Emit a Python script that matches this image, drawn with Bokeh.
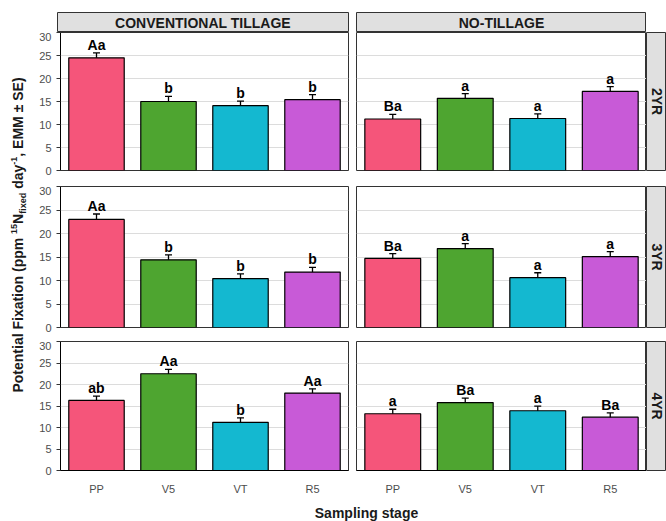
import math
from bokeh.plotting import figure
from bokeh.models import ColumnDataSource, Whisker, TeeHead, Range1d, FixedTicker, Div, Spacer
from bokeh.layouts import row, column
from bokeh.core.properties import value
from bokeh.embed import file_html
from bokeh.resources import INLINE

# ---------------- data ----------------
stages = ["PP", "V5", "VT", "R5"]
stage_colors = ["#F5557A", "#4EA530", "#14B8D0", "#C85AD7"]
tillages = ["CONVENTIONAL TILLAGE", "NO-TILLAGE"]
years = ["2YR", "3YR", "4YR"]
y_ticks = [0, 5, 10, 15, 20, 25, 30]

ct_2yr_mean = [24.5, 15.0, 14.1, 15.4]
ct_2yr_se = [1.05, 1.1, 1.0, 1.1]
ct_2yr_lab = ["Aa", "b", "b", "b"]
nt_2yr_mean = [11.2, 15.7, 11.3, 17.2]
nt_2yr_se = [1.0, 1.0, 1.0, 1.05]
nt_2yr_lab = ["Ba", "a", "a", "a"]

ct_3yr_mean = [23.0, 14.4, 10.4, 11.8]
ct_3yr_se = [1.15, 1.05, 1.0, 1.0]
ct_3yr_lab = ["Aa", "b", "b", "b"]
nt_3yr_mean = [14.7, 16.8, 10.6, 15.1]
nt_3yr_se = [1.0, 1.05, 1.05, 1.05]
nt_3yr_lab = ["Ba", "a", "a", "a"]

ct_4yr_mean = [16.3, 22.5, 11.2, 18.0]
ct_4yr_se = [1.0, 1.0, 1.05, 1.0]
ct_4yr_lab = ["ab", "Aa", "b", "Aa"]
nt_4yr_mean = [13.2, 15.8, 13.9, 12.4]
nt_4yr_se = [1.05, 1.05, 1.05, 1.0]
nt_4yr_lab = ["a", "Ba", "a", "Ba"]

panels = {
    ("2YR", 0): (ct_2yr_mean, ct_2yr_se, ct_2yr_lab),
    ("2YR", 1): (nt_2yr_mean, nt_2yr_se, nt_2yr_lab),
    ("3YR", 0): (ct_3yr_mean, ct_3yr_se, ct_3yr_lab),
    ("3YR", 1): (nt_3yr_mean, nt_3yr_se, nt_3yr_lab),
    ("4YR", 0): (ct_4yr_mean, ct_4yr_se, ct_4yr_lab),
    ("4YR", 1): (nt_4yr_mean, nt_4yr_se, nt_4yr_lab),
}

FONT = "Liberation Sans"
STRIP_FILL = "#e0e0e0"
EDGE = "#333333"
TICK_TXT = "#4d4d4d"

YLAB_W = 36
LEFT_AXIS = 21
GAP = 8
FRAME_W_L = 291
FRAME_W_R = 290
STRIP_W = 20
TOP_H = 32
TOP_PAD = 12
row_frames = [138, 141, 138]
row_bottoms = [16, 14, 18]
TOTAL_H = 521


def panel(mean, se, labels, left, frame_h, border_b, show_x):
    w = (LEFT_AXIS + FRAME_W_L + GAP) if left else FRAME_W_R
    p = figure(x_range=stages, y_range=Range1d(0, 30), width=w, height=frame_h + border_b,
               output_backend="svg", toolbar_location=None,
               min_border_left=LEFT_AXIS if left else 0, min_border_right=GAP if left else 0,
               min_border_top=0, min_border_bottom=border_b,
               outline_line_color=EDGE, background_fill_color="white")
    src = ColumnDataSource(dict(
        stage=stages, mean=mean,
        upper=[m + s for m, s in zip(mean, se)],
        lower=[m - s for m, s in zip(mean, se)],
        color=stage_colors, label=labels))
    p.vbar(x="stage", top="mean", width=0.77, fill_color="color", line_color="black",
           line_width=1.2, source=src)
    p.add_layout(Whisker(base="stage", upper="upper", lower="lower", source=src,
                         line_color="black", line_width=1.3,
                         upper_head=TeeHead(size=7, line_color="black", line_width=1.3),
                         lower_head=TeeHead(size=7, line_color="black", line_width=1.3)))
    p.text(x="stage", y="upper", text="label", source=src, text_align="center",
           text_baseline="bottom", y_offset=0, text_font=value(FONT),
           text_font_style="bold", text_font_size="14px", text_color="black")
    p.xgrid.visible = False
    p.ygrid.ticker = FixedTicker(ticks=y_ticks)
    p.ygrid.grid_line_color = "#dcdcdc"
    p.ygrid.grid_line_width = 1
    if left:
        ax = p.yaxis[0]
        ax.ticker = FixedTicker(ticks=y_ticks)
        ax.axis_line_color = "black"
        ax.major_tick_line_color = EDGE
        ax.major_tick_out = 4
        ax.major_tick_in = 0
        ax.minor_tick_line_color = None
        ax.major_label_standoff = 5
        ax.major_label_text_font = FONT
        ax.major_label_text_font_size = "11px"
        ax.major_label_text_color = TICK_TXT
    else:
        p.yaxis.visible = False
    if show_x:
        xa = p.xaxis[0]
        xa.axis_line_color = "black"
        xa.major_tick_line_color = None
        xa.minor_tick_line_color = None
        xa.major_label_standoff = 6
        xa.major_label_text_font = FONT
        xa.major_label_text_font_size = "11px"
        xa.major_label_text_color = TICK_TXT
    else:
        p.xaxis.visible = False
    return p


def strip_top(text, left):
    w = (LEFT_AXIS + FRAME_W_L + GAP) if left else FRAME_W_R
    p = figure(x_range=Range1d(0, 1), y_range=Range1d(0, 1), width=w, height=TOP_H,
               output_backend="svg", toolbar_location=None,
               min_border_left=LEFT_AXIS if left else 0, min_border_right=GAP if left else 0,
               min_border_top=TOP_PAD, min_border_bottom=0,
               background_fill_color=STRIP_FILL, outline_line_color=EDGE)
    p.axis.visible = False
    p.grid.visible = False
    p.text(x=[0.5], y=[0.5], text=[text], text_align="center", text_baseline="middle",
           text_font=value(FONT), text_font_style="bold", text_font_size="14px",
           text_color="#1a1a1a")
    return p


def strip_right(text, frame_h, border_b):
    p = figure(x_range=Range1d(0, 1), y_range=Range1d(0, 1), width=STRIP_W,
               height=frame_h + border_b, output_backend="svg", toolbar_location=None,
               min_border_left=0, min_border_right=0, min_border_top=0,
               min_border_bottom=border_b,
               background_fill_color=STRIP_FILL, outline_line_color=EDGE)
    p.axis.visible = False
    p.grid.visible = False
    p.text(x=[0.5], y=[0.5], text=[text], text_align="center", text_baseline="middle",
           angle=-math.pi / 2,
           text_font=value(FONT), text_font_style="bold", text_font_size="14px",
           text_color="#1a1a1a")
    return p


rows = [row(strip_top(tillages[0], True), strip_top(tillages[1], False),
            Spacer(width=STRIP_W, height=TOP_H, margin=0))]
for i, yr in enumerate(years):
    fh, bb = row_frames[i], row_bottoms[i]
    show_x = (i == len(years) - 1)
    pl = panel(*panels[(yr, 0)], True, fh, bb, show_x)
    pr = panel(*panels[(yr, 1)], False, fh, bb, show_x)
    rows.append(row(pl, pr, strip_right(yr, fh, bb)))

col_w = LEFT_AXIS + FRAME_W_L + GAP + FRAME_W_R + STRIP_W
used_h = TOP_H + sum(row_frames) + sum(row_bottoms)
xt_h = TOTAL_H - used_h
xt = figure(x_range=Range1d(0, col_w), y_range=Range1d(0, xt_h), width=col_w, height=xt_h,
            output_backend="svg", toolbar_location=None, min_border=0,
            outline_line_color=None)
xt.axis.visible = False
xt.grid.visible = False
xt.text(x=[330], y=[xt_h - 15], text=["Sampling stage"], text_align="center",
        text_baseline="middle", text_font=value(FONT), text_font_style="bold",
        text_font_size="14px", text_color="#1a1a1a")
rows.append(xt)

ylab_html = (
    '<div style="width:470px;height:36px;line-height:36px;text-align:center;'
    'transform-origin:top left;transform:translate(9px,470px) rotate(-90deg);'
    "white-space:nowrap;font:bold 14px 'Liberation Sans',Arial,sans-serif;color:#1a1a1a;\">"
    'Potential Fixation (ppm <sup style="font-size:9px">15</sup>N'
    '<sub style="font-size:9px">fixed</sub> day<sup style="font-size:9px">-1</sup>'
    ', EMM &plusmn; SE)</div>'
)
ydiv = Div(text=ylab_html, width=YLAB_W, height=TOTAL_H, margin=0,
           styles={"overflow": "visible"})

layout = row(ydiv, column(*rows))

open("out.html", "w").write(file_html(layout, INLINE))
